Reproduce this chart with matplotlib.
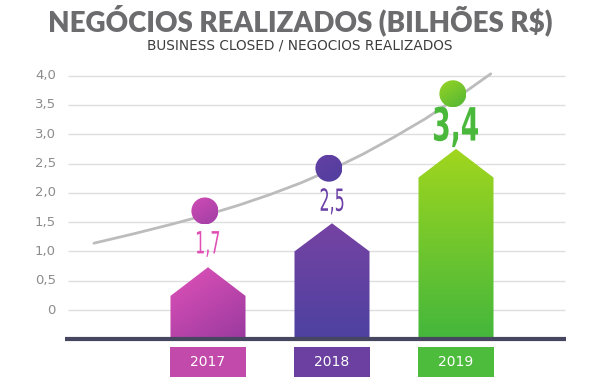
import matplotlib
matplotlib.use("Agg")
import matplotlib.pyplot as plt
from matplotlib.patches import Polygon, Ellipse, Rectangle, PathPatch
from matplotlib.textpath import TextPath
from matplotlib.font_manager import FontProperties
from matplotlib.transforms import Affine2D, ScaledTranslation
import numpy as np

# ── data ─────────────────────────────────────────────────────────────────────
YEARS = ["2017", "2018", "2019"]
VALUE_LABELS = ["1,7", "2,5", "3,4"]
CIRCLE_Y = [1.69, 2.42, 3.69]          # dot positions (billions R$)
BAR_SHOULDER = [0.24, 1.00, 2.26]      # where the "house" roof starts
BAR_PEAK = [0.73, 1.48, 2.75]          # roof tip
BAR_BASE = -0.5                        # bars stand on the dark baseline

TICKS = [0, 0.5, 1.0, 1.5, 2.0, 2.5, 3.0, 3.5, 4.0]
TICK_LABELS = ["0", "0,5", "1,0", "1,5", "2,0", "2,5", "3,0", "3,5", "4,0"]

# trend curve, points
CURVE_X = [-0.92, -0.6, -0.3, 0.0, 0.25, 0.5, 0.75, 1.0, 1.25, 1.5, 1.75, 2.0, 2.28]
CURVE_Y = [1.14, 1.30, 1.46, 1.63, 1.79, 1.97, 2.17, 2.40, 2.66, 2.95, 3.26, 3.61, 4.03]

# colours per year
BAR_TOP = ["#e152b9", "#7643a3", "#a0d61e"]
BAR_BOT = ["#9a3a9f", "#4d41a0", "#44b73c"]
DOT_TOP = ["#d04cb4", "#6440a4", "#98d424"]
DOT_BOT = ["#a03fa6", "#503e9e", "#52b636"]
LABEL_COL = ["#e04fb4", "#6a3fa6", "#4ab83a"]
BOX_COL = ["#c24aab", "#6b40a0", "#4dbb3c"]

BAR_W = 0.605
DOT_DX = -0.025


def gradient_fill(ax, patch, c_top, c_bot, diagonal=True):
    """Paint a patch with a linear gradient (top-left -> bottom-right)."""
    ax.add_patch(patch)
    x0, y0, x1, y1 = patch.get_extents().transformed(ax.transData.inverted()).extents
    n = 64
    gx, gy = np.meshgrid(np.linspace(0, 1, n), np.linspace(0, 1, n))
    t = (gy * 0.6 + gx * 0.4) if diagonal else gy
    t = (t - t.min()) / (t.max() - t.min())
    ct = np.array(matplotlib.colors.to_rgb(c_top))
    cb = np.array(matplotlib.colors.to_rgb(c_bot))
    img = ct[None, None, :] * (1 - t[..., None]) + cb[None, None, :] * t[..., None]
    im = ax.imshow(img, extent=(x0, x1, y0, y1), origin="upper",
                   aspect="auto", interpolation="bilinear", zorder=patch.get_zorder())
    im.set_clip_path(patch)
    patch.set_facecolor("none")
    patch.set_edgecolor("none")


def narrow_text(ax, x, y, s, size, color, squeeze, bold=False, drop_pt=0.0):
    """Condensed label: text outline squeezed horizontally, centred drop_pt below (x, y)."""
    fp = FontProperties(family="DejaVu Sans", weight="bold" if bold else "normal")
    tp = TextPath((0, 0), s, size=size, prop=fp)
    bb = tp.get_extents()
    cx, cy = (bb.x0 + bb.x1) / 2, (bb.y0 + bb.y1) / 2
    k = ax.figure.dpi / 72
    tr = (Affine2D().translate(-cx, -cy).scale(squeeze * k, k).translate(0, -drop_pt * k)
          + ScaledTranslation(x, y, ax.transData))
    ax.add_patch(PathPatch(tp, transform=tr, facecolor=color, edgecolor="none", zorder=5))


fig = plt.figure(figsize=(6, 3.83), dpi=100)
ax = fig.add_axes([0, 0, 1, 1])
ax.set_xlim(-208 / 124, 392 / 124)
ax.set_ylim(-73 / 58.6, 310 / 58.6)
ax.axis("off")

# gridlines + tick labels
ax.hlines(TICKS, -1.129, 2.879, color="#dedede", linewidth=1.0, zorder=1)
for v, lab in zip(TICKS, TICK_LABELS):
    ax.text(-1.226, v, lab, ha="right", va="center", fontsize=9.5,
            color="#8c8c8c", family="DejaVu Sans")

# trend curve
ax.plot(CURVE_X, CURVE_Y, color="#bcbcbc", linewidth=2.0,
        solid_capstyle="round", solid_joinstyle="round", zorder=3)

xs = np.arange(len(YEARS))
for i, x in enumerate(xs):
    # house-shaped bar
    h = BAR_W / 2
    poly = Polygon([(x - h, BAR_BASE), (x - h, BAR_SHOULDER[i]), (x, BAR_PEAK[i]),
                    (x + h, BAR_SHOULDER[i]), (x + h, BAR_BASE)], closed=True, zorder=2)
    gradient_fill(ax, poly, BAR_TOP[i], BAR_BOT[i], diagonal=(i == 0))

    # dot
    dot = Ellipse((x + DOT_DX, CIRCLE_Y[i]), 27 / 124, 27 / 58.6, zorder=4)
    gradient_fill(ax, dot, DOT_TOP[i], DOT_BOT[i])

    # value label under the dot (33 px lower)
    big = i == 2
    narrow_text(ax, x, CIRCLE_Y[i], VALUE_LABELS[i],
                size=33 if big else 22, color=LABEL_COL[i],
                squeeze=0.58 if big else 0.52, bold=big, drop_pt=23.8)

    # year box
    ax.add_patch(Rectangle((x - h, -1.143), BAR_W, 0.512, facecolor=BOX_COL[i],
                           edgecolor="none", zorder=2))
    ax.text(x, -0.887, YEARS[i], ha="center", va="center", fontsize=10,
            color="white", family="DejaVu Sans", zorder=3)

# dark baseline
ax.hlines(BAR_BASE, -1.153, 2.887, color="#464660", linewidth=3, zorder=3)

fig.text(0.5, 0.948, "NEGÓCIOS REALIZADOS (BILHÕES R$)", ha="center", va="center",
         fontsize=20, fontweight="heavy", color="#6c6c6e", family="Lato")
fig.text(0.5, 0.881, "BUSINESS CLOSED / NEGOCIOS REALIZADOS", ha="center",
         va="center", fontsize=9.8, color="#3c3c3c", family="DejaVu Sans")

fig.savefig("out.png", dpi=100)
